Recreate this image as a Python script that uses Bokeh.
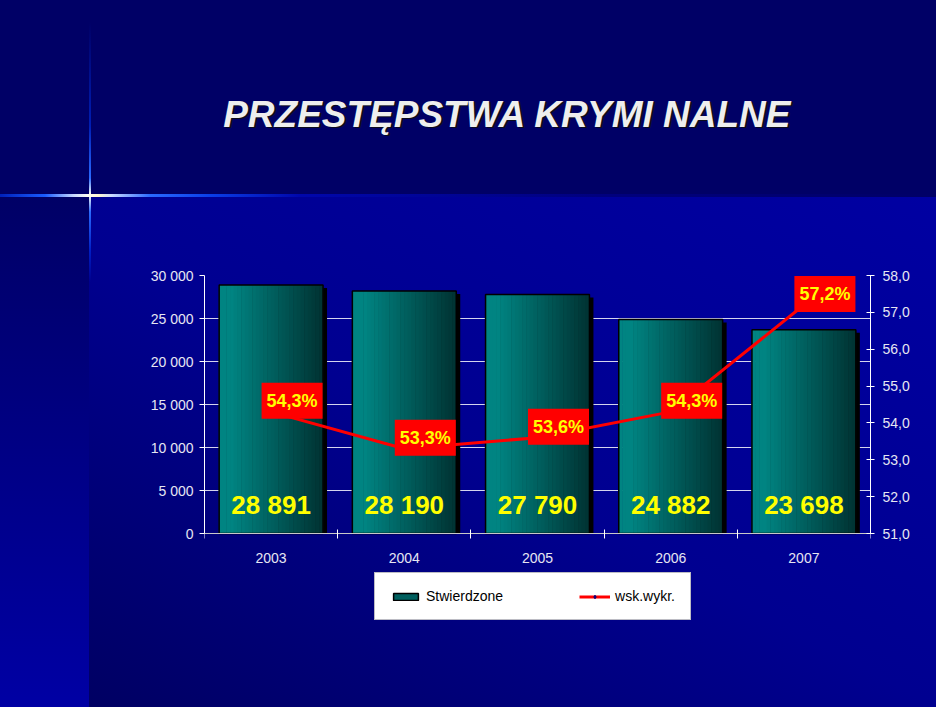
from bokeh.plotting import figure
from bokeh.models import (ColumnDataSource, FixedTicker, LinearAxis, Range1d, Label,
                          Legend, LegendItem, InlineStyleSheet)
from bokeh.transform import dodge
from bokeh.core.properties import value
from bokeh.embed import file_html
from bokeh.resources import INLINE

FONT = "Liberation Sans"

# ---------------- data ----------------
years = ["2003", "2004", "2005", "2006", "2007"]
stwierdzone = [28891, 28190, 27790, 24882, 23698]
wsk_wykr = [54.3, 53.3, 53.6, 54.3, 57.2]
bar_value_labels = ["28 891", "28 190", "27 790", "24 882", "23 698"]
pct_labels = ["54,3%", "53,3%", "53,6%", "54,3%", "57,2%"]
left_ticks = [0, 5000, 10000, 15000, 20000, 25000, 30000]
left_tick_labels = ["0", "5 000", "10 000", "15 000", "20 000", "25 000", "30 000"]
right_ticks = [51, 52, 53, 54, 55, 56, 57, 58]
right_tick_labels = ["51,0", "52,0", "53,0", "54,0", "55,0", "56,0", "57,0", "58,0"]
title_text = "PRZESTĘPSTWA KRYMI NALNE"
legend_labels = ["Stwierdzone", "wsk.wykr."]

n = len(years)
xc = [i + 0.5 for i in range(n)]

# layout: chart area 258 px tall, frame continues 99 px further down to hold the legend
CHART_PX = 258
EXTRA_PX = 99
y_lo, y_hi = left_ticks[0], left_ticks[-1]
r_lo, r_hi = right_ticks[0], right_ticks[-1]
y_min = y_lo - (y_hi - y_lo) * EXTRA_PX / CHART_PX
r_min = r_lo - (r_hi - r_lo) * EXTRA_PX / CHART_PX

p = figure(frame_width=666, frame_height=CHART_PX + EXTRA_PX,
           x_range=Range1d(0, n), y_range=Range1d(y_min, y_hi),
           output_backend="svg", toolbar_location=None, title=None,
           min_border_left=204, min_border_right=66, min_border_top=275, min_border_bottom=75)
p.background_fill_color = None
p.border_fill_color = None
p.outline_line_color = None
p.extra_y_ranges = {"pct": Range1d(r_min, r_hi)}

css = """
:host {
  background-color: #000066;
  background-image:
    linear-gradient(to right, rgba(0,60,255,0.55) 0px, #1a5cff 45px, #c8d8ff 74px, #fffff0 89px, #fff8d0 98px, #c8d8ff 112px, #2a6aff 150px, #0a3ee8 210px, rgba(0,10,200,0.7) 300px, rgba(0,0,170,0.35) 600px, rgba(0,0,160,0) 936px),
    linear-gradient(to bottom, rgba(0,40,220,0) 0%, rgba(0,50,230,0.6) 40%, #2a6aff 60%, #fffff0 66.5%, #2a6aff 73%, rgba(0,50,230,0.6) 88%, rgba(0,40,220,0) 100%),
    linear-gradient(to bottom, #000066, #0000a4),
    linear-gradient(to top right, #00005e 0%, #000090 50%, #0000a2 100%);
  background-size: 100% 3px, 2px 260px, 89px 510px, 100% 510px;
  background-position: 0 194px, 89px 22px, 0 197px, 0 197px;
  background-repeat: no-repeat;
}
"""
p.stylesheets = [InlineStyleSheet(css=css)]

# ---------------- bars ----------------
bar_w = 0.78
src = ColumnDataSource(dict(x=xc, top=stwierdzone, lbl=bar_value_labels,
                            shadow_top=[v - 350 for v in stwierdzone]))

p.vbar(x=dodge("x", 0.03, range=p.x_range), width=bar_w, top="shadow_top", bottom=0,
       source=src, fill_color="black", line_color=None)

N = 28
c0 = (0, 132, 130)
c1 = (0, 50, 50)
strips = []
for k in range(N):
    tpos = (k + 0.5) / N
    tt = max(0.0, (tpos - 0.12) / 0.88)
    col = "#%02x%02x%02x" % tuple(int(round(a + (b - a) * tt)) for a, b in zip(c0, c1))
    r = p.vbar(x=dodge("x", -bar_w / 2 + (k + 0.5) * bar_w / N, range=p.x_range),
               width=bar_w / N + 0.004, top="top", bottom=0, source=src,
               fill_color=col, line_color=None)
    strips.append(r)

outline_r = p.vbar(x="x", width=bar_w, top="top", bottom=0, source=src,
                   fill_color=None, line_color="black", line_width=1.5)

p.text(x="x", y=3300, text="lbl", source=src, text_font=value(FONT),
       text_font_size="26px", text_font_style="bold", text_color="#ffff00",
       text_align="center", text_baseline="middle")

# ---------------- line ----------------
src2 = ColumnDataSource(dict(x=xc, y=wsk_wykr, lbl=pct_labels))
line_r = p.line("x", "y", source=src2, y_range_name="pct", line_color="#ff0000", line_width=3)
scatter_r = p.scatter("x", "y", source=src2, y_range_name="pct", marker="diamond", size=12,
                      fill_color="#000080", line_color="#000080")

for xv, yv, lab in zip(xc, wsk_wykr, pct_labels):
    p.add_layout(Label(x=xv, y=yv, y_range_name="pct", text=lab, x_offset=21, y_offset=11,
                       text_align="center", text_baseline="middle", text_font=FONT,
                       text_font_size="18px", text_font_style="bold", text_color="#ffff00",
                       background_fill_color="#ff0000",
                       padding=dict(left=5, right=5, top=8, bottom=8)))

# ---------------- axes ----------------
ya = p.yaxis[0]
ya.ticker = FixedTicker(ticks=left_ticks)
ya.bounds = (y_lo, y_hi)
ya.major_label_overrides = {k: v for k, v in zip(left_ticks, left_tick_labels)}
ya.major_tick_in = 0
ya.major_tick_out = 5
ya.minor_tick_line_color = None
ya.axis_line_color = "white"
ya.major_tick_line_color = "white"
ya.major_label_text_color = "#e6e6f2"
ya.major_label_text_font = FONT
ya.major_label_text_font_size = "14px"
ya.major_label_standoff = 6

ra = LinearAxis(y_range_name="pct", ticker=FixedTicker(ticks=right_ticks), bounds=(r_lo, r_hi))
ra.major_label_overrides = {k: v for k, v in zip(right_ticks, right_tick_labels)}
ra.major_tick_in = 4
ra.major_tick_out = 4
ra.minor_tick_line_color = None
ra.axis_line_color = "white"
ra.major_tick_line_color = "white"
ra.major_label_text_color = "#e6e6f2"
ra.major_label_text_font = FONT
ra.major_label_text_font_size = "14px"
ra.major_label_standoff = 8
p.add_layout(ra, "right")

xa = p.xaxis[0]
xa.fixed_location = 0
xa.ticker = FixedTicker(ticks=xc, minor_ticks=list(range(0, n + 1)))
xa.major_label_overrides = {k: v for k, v in zip(xc, years)}
xa.major_tick_in = 0
xa.major_tick_out = 0
xa.major_tick_line_color = None
xa.minor_tick_in = 4
xa.minor_tick_out = 5
xa.minor_tick_line_color = "white"
xa.axis_line_color = "#c8c8c8"
xa.major_label_text_color = "#e6e6f2"
xa.major_label_text_font = FONT
xa.major_label_text_font_size = "14px"
xa.major_label_standoff = 14

p.xgrid.visible = False
p.ygrid[0].ticker = FixedTicker(ticks=left_ticks)
p.ygrid.grid_line_color = "#d4d4ee"
p.ygrid.grid_line_width = 1

# ---------------- legend (inside the lower part of the frame) ----------------
legend = Legend(items=[LegendItem(label=legend_labels[0], renderers=[strips[N // 2], outline_r]),
                       LegendItem(label=legend_labels[1], renderers=[line_r, scatter_r])],
                orientation="horizontal", location=(170, 12), padding=15, spacing=76,
                glyph_width=31, glyph_height=9, label_standoff=5, label_height=15,
                label_text_font=FONT, label_text_font_size="14px", label_text_color="black",
                background_fill_color="white", background_fill_alpha=1.0,
                border_line_color="#7a7a8a", border_line_width=1.5, margin=0)
p.add_layout(legend)

# ---------------- title (in the band above the frame) ----------------
p.add_layout(Label(x=305, y=160, x_units="screen", y_units="screen", text=title_text,
                   text_align="center", text_baseline="middle", text_font=FONT,
                   text_font_size="37px", text_font_style="bold italic",
                   text_color="#0c0c1c"), "above")
p.add_layout(Label(x=303, y=120, x_units="screen", y_units="screen", text=title_text,
                   text_align="center", text_baseline="middle", text_font=FONT,
                   text_font_size="37px", text_font_style="bold italic",
                   text_color="#eeeeee"), "above")

open("out.html", "w", encoding="utf-8").write(file_html(p, INLINE))
